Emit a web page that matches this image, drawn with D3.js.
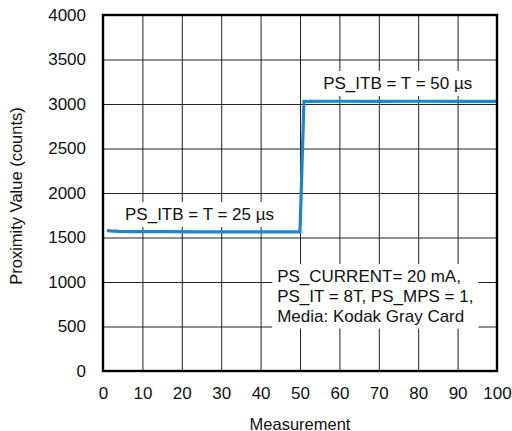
<!DOCTYPE html>
<html>
<head>
<meta charset="utf-8">
<script src="https://cdn.jsdelivr.net/npm/d3@7"></script>
<style>
  body { margin: 0; background: #fff; }
  svg text { font-family: "Liberation Sans", Arial, sans-serif; fill: #111; }
</style>
</head>
<body>
<svg width="512" height="431"></svg>
<script>
const measurement = [1, 2, 4, 8, 15, 25, 35, 45, 50, 51, 60, 70, 80, 90, 100];
const proximity = [1578, 1574, 1568, 1566, 1565, 1564, 1564, 1563, 1563, 3030, 3031, 3030, 3031, 3030, 3030];
const xTicks = [0, 10, 20, 30, 40, 50, 60, 70, 80, 90, 100];
const yTicks = [0, 500, 1000, 1500, 2000, 2500, 3000, 3500, 4000];
const notes = [
  { x: 24.5, y: 1697, anchor: 'middle', lines: ['PS_ITB = T = 25 µs'] },
  { x: 74.8, y: 3169, anchor: 'middle', lines: ['PS_ITB = T = 50 µs'] },
  { x: 44.2, y: 1000, anchor: 'start', lines: ['PS_CURRENT= 20 mA,', 'PS_IT = 8T, PS_MPS = 1,', 'Media: Kodak Gray Card'] }
];

const margin = { top: 15, right: 15, bottom: 60, left: 103 };
const width = 512 - margin.left - margin.right;
const height = 431 - margin.top - margin.bottom;
const fontSize = '17px';

const x = d3.scaleLinear().domain([0, 100]).range([0, width]);
const y = d3.scaleLinear().domain([0, 4000]).range([height, 0]);

const svg = d3.select('svg')
  .append('g')
  .attr('transform', `translate(${margin.left}, ${margin.top})`);

// grid
svg.append('g')
  .call(d3.axisBottom(x).tickValues(xTicks).tickSize(height).tickFormat(''))
  .call(g => g.select('.domain').remove())
  .call(g => g.selectAll('line').attr('stroke', '#222').attr('stroke-width', 1));
svg.append('g')
  .call(d3.axisLeft(y).tickValues(yTicks).tickSize(-width).tickFormat(''))
  .call(g => g.select('.domain').remove())
  .call(g => g.selectAll('line').attr('stroke', '#222').attr('stroke-width', 1));

// series
const line = d3.line()
  .x((d, i) => x(measurement[i]))
  .y(d => y(d));

svg.append('path')
  .datum(proximity)
  .attr('d', line)
  .attr('fill', 'none')
  .attr('stroke', '#1d86cf')
  .attr('stroke-width', 3.2);

// annotations with white boxes
notes.forEach(n => {
  const g = svg.append('g');
  const box = g.append('rect').attr('fill', '#fff');
  const t = g.append('text')
    .attr('x', x(n.x))
    .attr('y', y(n.y))
    .attr('text-anchor', n.anchor)
    .style('font-size', fontSize);
  n.lines.forEach((s, i) => {
    t.append('tspan').attr('x', x(n.x)).attr('dy', i === 0 ? 0 : 19.8).text(s);
  });
  const b = t.node().getBBox();
  box.attr('x', b.x - 5).attr('y', b.y - 3).attr('width', b.width + 10).attr('height', b.height + 6);
});

// frame
svg.append('rect')
  .attr('width', width)
  .attr('height', height)
  .attr('fill', 'none')
  .attr('stroke', '#000')
  .attr('stroke-width', 2.4);

// tick labels
svg.append('g')
  .attr('transform', `translate(0, ${height})`)
  .call(d3.axisBottom(x).tickValues(xTicks).tickSize(0).tickPadding(16).tickFormat(d3.format('d')))
  .call(g => g.select('.domain').remove())
  .call(g => g.selectAll('text').style('font-size', fontSize));
svg.append('g')
  .call(d3.axisLeft(y).tickValues(yTicks).tickSize(0).tickPadding(17).tickFormat(d3.format('d')))
  .call(g => g.select('.domain').remove())
  .call(g => g.selectAll('text').style('font-size', fontSize));

svg.append('text')
  .attr('x', 197)
  .attr('y', height + 58.5)
  .attr('text-anchor', 'middle')
  .style('font-size', '16.5px')
  .text('Measurement');

svg.append('text')
  .attr('transform', `translate(${-margin.left + 22}, 181) rotate(-90)`)
  .attr('text-anchor', 'middle')
  .style('font-size', '16.5px')
  .text('Proximity Value (counts)');
</script>
</body>
</html>
